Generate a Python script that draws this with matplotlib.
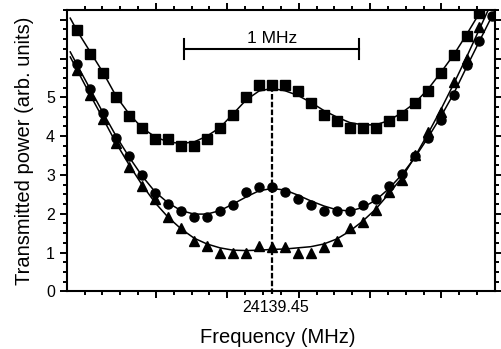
import matplotlib
matplotlib.use('Agg')
import matplotlib.pyplot as plt
from matplotlib.ticker import FixedLocator, FixedFormatter
import matplotlib.transforms as mtransforms

plt.rcParams['font.family'] = ['Liberation Sans', 'DejaVu Sans']

# frequency offsets from 24139.45 MHz (MHz)
freq = [-1.091, -1.018, -0.945, -0.873, -0.800, -0.727, -0.654, -0.582,
        -0.509, -0.436, -0.364, -0.291, -0.218, -0.145, -0.073, 0.000,
        0.073, 0.145, 0.218, 0.291, 0.364, 0.436, 0.509, 0.582,
        0.654, 0.727, 0.800, 0.873, 0.945, 1.018, 1.091, 1.163, 1.236]

squares = [6.73, 6.11, 5.63, 5.00, 4.52, 4.22, 3.93, 3.93, 3.75, 3.75, 3.92,
           4.22, 4.54, 5.00, 5.33, 5.33, 5.33, 5.17, 4.85, 4.54, 4.38, 4.22,
           4.22, 4.22, 4.39, 4.54, 4.85, 5.17, 5.63, 6.09, 6.57, 7.18]
circles = [5.85, 5.21, 4.60, 3.96, 3.49, 3.00, 2.53, 2.24, 2.08, 1.92, 1.92,
           2.08, 2.23, 2.55, 2.70, 2.70, 2.55, 2.39, 2.23, 2.07, 2.07, 2.08,
           2.22, 2.37, 2.71, 3.02, 3.49, 3.94, 4.41, 5.06, 5.83, 6.45, 7.10]
triangles = [5.70, 5.06, 4.43, 3.81, 3.21, 2.72, 2.38, 1.92, 1.62, 1.30, 1.16,
             0.99, 0.99, 0.99, 1.16, 1.15, 1.15, 0.99, 0.99, 1.15, 1.30, 1.62,
             1.78, 2.10, 2.56, 2.87, 3.51, 4.11, 4.62, 5.39, 5.99, 6.81]

# fitted curves
fit_sq_x = [-1.13] + freq[:32] + [1.19]
fit_sq = [7.04, 6.71, 6.17, 5.63, 5.03, 4.57, 4.21, 3.98, 3.85, 3.81, 3.85,
          4.00, 4.22, 4.57, 4.93, 5.16, 5.23, 5.17, 5.05, 4.87, 4.66, 4.49,
          4.35, 4.29, 4.29, 4.40, 4.60, 4.85, 5.20, 5.63, 6.09, 6.62, 7.17, 7.37]
fit_ci_x = [-1.13] + freq + [1.26]
fit_ci = [6.17, 5.83, 5.21, 4.59, 4.00, 3.46, 2.97, 2.56, 2.28, 2.08, 1.99,
          1.99, 2.08, 2.25, 2.43, 2.59, 2.65, 2.61, 2.48, 2.33, 2.20, 2.10,
          2.07, 2.16, 2.35, 2.64, 3.00, 3.44, 3.95, 4.49, 5.09, 5.78, 6.45,
          7.12, 7.34]
fit_tr_x = [-1.13] + freq[:32] + [1.215]
fit_tr = [6.04, 5.70, 5.06, 4.44, 3.82, 3.26, 2.74, 2.28, 1.91, 1.61, 1.37,
          1.22, 1.12, 1.06, 1.05, 1.06, 1.08, 1.09, 1.12, 1.15, 1.22, 1.35,
          1.55, 1.81, 2.12, 2.51, 2.92, 3.46, 4.05, 4.67, 5.34, 6.04, 6.76, 7.28]

fig = plt.figure(figsize=(5.01, 3.49), dpi=100)
ax = fig.add_axes([0.1331, 0.1653, 0.8549, 0.806])

ax.plot(fit_sq_x, fit_sq, color='black', lw=1.1)
ax.plot(fit_ci_x, fit_ci, color='black', lw=1.1)
ax.plot(fit_tr_x, fit_tr, color='black', lw=1.1)
ax.plot(freq[:32], squares, 's', color='black', ms=6.5)
ax.plot(freq, circles, 'o', color='black', ms=6.5)
ax.plot(freq[:32], triangles, '^', color='black', ms=7)

# center line
ax.plot([0, 0], [-0.06, 5.23], color='black', lw=1.6, ls=(0, (2.5, 1.0)),
        clip_on=False)

# 1 MHz scale bar
ax.plot([-0.495, 0.49], [6.245, 6.245], color='black', lw=1.5)
ax.plot([-0.495, -0.495], [6.0, 6.5], color='black', lw=1.5)
ax.plot([0.49, 0.49], [6.0, 6.5], color='black', lw=1.5)
ax.text(0.0, 6.52, '1 MHz', ha='center', va='center', fontsize=12.5)

ax.set_xlim(-1.15, 1.25)
ax.set_ylim(0, 7.25)

ax.xaxis.set_major_locator(FixedLocator([-0.65, -0.25, 0.15, 0.55, 0.95]))
ax.xaxis.set_minor_locator(FixedLocator([-1.05 + 0.1 * i for i in range(23)]))
ax.xaxis.set_major_formatter(FixedFormatter([''] * 5))
ax.yaxis.set_major_locator(FixedLocator(range(8)))
ax.yaxis.set_minor_locator(FixedLocator([0.25 * i for i in range(30)]))
ax.yaxis.set_major_formatter(FixedFormatter(['0', '1', '2', '3', '4', '5', '', '']))

ax.tick_params(which='both', direction='out', width=1.4, top=True, right=True,
               labelsize=11.5, pad=3.4)
ax.tick_params(which='major', length=5)
ax.tick_params(which='minor', length=3.2)
for s in ax.spines.values():
    s.set_linewidth(1.5)

trans = mtransforms.blended_transform_factory(ax.transData, ax.transAxes)
ax.text(0.02, -0.059, '24139.45', transform=trans, ha='center', va='center',
        fontsize=11.5)

ax.set_xlabel('Frequency (MHz)', fontsize=14.5)
ax.set_ylabel('Transmitted power (arb. units)', fontsize=14.5)
ax.xaxis.set_label_coords(0.493, -0.13)
ax.yaxis.set_label_coords(-0.076, 0.5)

fig.savefig('out.png', dpi=100)
